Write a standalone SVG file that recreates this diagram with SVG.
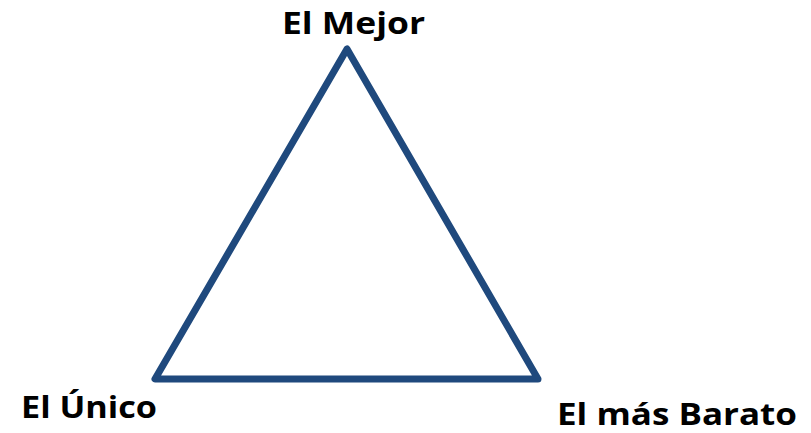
<svg xmlns="http://www.w3.org/2000/svg" width="811" height="433" viewBox="0 0 811 433">
<style>
.lbl{font-family:"Open Sans","Liberation Sans",sans-serif;font-weight:bold;font-size:30px;fill:#000}
.tri{fill:none;stroke:#1f497d;stroke-width:7;stroke-linejoin:round}
</style>
<rect width="811" height="433" fill="#fff"/>
<g id="connectors">
<polygon class="tri" points="347,49 155,379 538,379"/>
</g>
<g id="node-mejor"><text class="lbl" x="282" y="34" textLength="143" lengthAdjust="spacingAndGlyphs">El Mejor</text></g>
<g id="node-unico"><text class="lbl" x="21" y="418" textLength="136" lengthAdjust="spacingAndGlyphs">El Único</text></g>
<g id="node-barato"><text class="lbl" x="557" y="425" textLength="240" lengthAdjust="spacingAndGlyphs">El más Barato</text></g>
</svg>
